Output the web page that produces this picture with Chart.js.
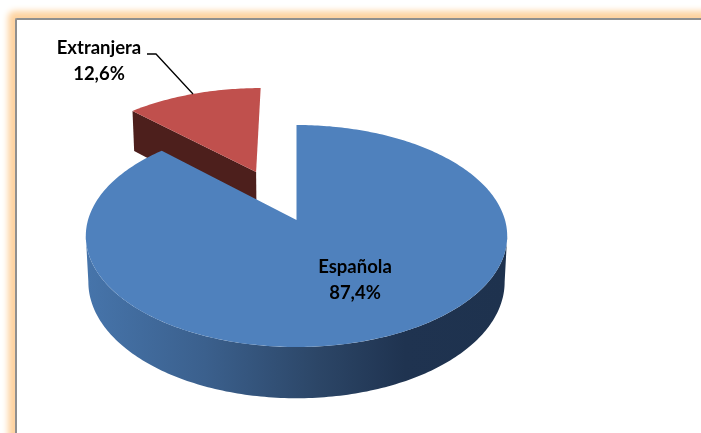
<!DOCTYPE html>
<html>
<head>
<meta charset="utf-8">
<title>Nacionalidad</title>
<script src="https://cdn.jsdelivr.net/npm/chart.js@4"></script>
<style>
  html, body { margin: 0; padding: 0; background: #fff; overflow: hidden; width: 701px; height: 433px; }
  #frame {
    position: absolute; left: 15px; top: 18px; width: 800px; height: 600px;
    background: #fff;
    border-left: 2px solid #8f8f8f; border-top: 2px solid #8f8f8f;
    box-shadow: 0 0 6px 7px #fed3a0;
    border-radius: 2px;
  }
  #chart { position: absolute; left: 0; top: 0; }
</style>
</head>
<body>
<div id="frame"></div>
<canvas id="chart" width="701" height="433"></canvas>
<script>
// Data
const categories = ['Española', 'Extranjera'];
const shares = [87.4, 12.6];
const sliceColors = ['#4f81bd', '#c0504d'];
const cutFaceColors = ['#1f334f', '#4d1f1c'];
const explode = [0, 0.51];            // slice pull-out, as a fraction of the radius
const explodeNudge = [0, -2];         // small sideways correction of the pull-out, px
const labelPositions = [[355, 267], [99, 48]];

// Tilted view of the pie: the near rim is bigger than the far rim
const TILT = 108.7;    // vertical size of the disc
const PERSPECTIVE = 0.144;
const THICKNESS = 46;
const DEPTH_SHRINK = 0.012;
const SILHOUETTE_ANGLE = 0.14;  // where the wall leaves the top rim, radians

/**
 * Project a point of the pie (unit disc coords, z = 0 top face, z = 1 bottom face)
 */
function project(arc, u, v, z) {
  const w = 1 - PERSPECTIVE * v + DEPTH_SHRINK * z;
  return [arc.x + arc.outerRadius * u / w, arc.y + (TILT * v + THICKNESS * z) / w];
}

function rimPoints(arc, pull, from, to, z) {
  const mid = (arc.startAngle + arc.endAngle) / 2;
  const ox = Math.cos(mid) * pull;
  const oy = Math.sin(mid) * pull;
  const steps = Math.max(2, Math.ceil(Math.abs(to - from) * 60));
  const points = [];
  for (let i = 0; i <= steps; i++) {
    const a = from + (to - from) * i / steps;
    points.push(project(arc, ox + Math.cos(a), oy + Math.sin(a), z));
  }
  return points;
}

function fillPolygon(ctx, points, fill) {
  ctx.beginPath();
  points.forEach((p, i) => (i ? ctx.lineTo(p[0], p[1]) : ctx.moveTo(p[0], p[1])));
  ctx.closePath();
  ctx.fillStyle = fill;
  ctx.fill();
}

function drawSlice(ctx, arc, index) {
  const pull = explode[index];
  const mid = (arc.startAngle + arc.endAngle) / 2;
  const ox = Math.cos(mid) * pull;
  const oy = Math.sin(mid) * pull;
  const apexTop = project(arc, ox, oy, 0);
  const apexBottom = project(arc, ox, oy, 1);

  ctx.save();
  ctx.translate(explodeNudge[index], 0);

  // Side wall along the near part of the rim
  const wallFrom = Math.max(arc.startAngle, SILHOUETTE_ANGLE);
  const wallTo = Math.min(arc.endAngle, Math.PI - SILHOUETTE_ANGLE);
  if (wallTo > wallFrom) {
    const wall = rimPoints(arc, pull, wallFrom, wallTo, 0)
      .concat(rimPoints(arc, pull, wallTo, wallFrom, 1));
    const shade = ctx.createLinearGradient(88, 0, 505, 0);
    shade.addColorStop(0, '#4674aa');
    shade.addColorStop(0.28, '#3b608d');
    shade.addColorStop(0.55, '#2c4667');
    shade.addColorStop(0.76, '#1f3350');
    shade.addColorStop(1, '#1e324e');
    fillPolygon(ctx, wall, shade);
  }

  // Cut face, only the pulled-out slice shows one
  if (pull > 0) {
    const cornerTop = project(arc, ox + Math.cos(arc.startAngle), oy + Math.sin(arc.startAngle), 0);
    const cornerBottom = project(arc, ox + Math.cos(arc.startAngle), oy + Math.sin(arc.startAngle), 1);
    fillPolygon(ctx, [apexTop, cornerTop, cornerBottom, apexBottom], cutFaceColors[index]);
  }

  // Top face
  fillPolygon(ctx, [apexTop].concat(rimPoints(arc, pull, arc.startAngle, arc.endAngle, 0)),
    arc.options.backgroundColor);
  ctx.restore();
}

const pie3d = {
  id: 'pie3d',
  beforeDatasetsDraw(chart) {
    const ctx = chart.ctx;
    const arcs = chart.getDatasetMeta(0).data;
    // Far slice first so the big one covers it
    ctx.save();
    for (let i = arcs.length - 1; i >= 0; i--) {
      drawSlice(ctx, arcs[i], i);
    }
    ctx.restore();
    return false;
  },
  afterDraw(chart) {
    const ctx = chart.ctx;
    ctx.save();

    // Leader line of the small slice
    ctx.strokeStyle = '#000';
    ctx.lineWidth = 1.3;
    ctx.beginPath();
    ctx.moveTo(147, 54);
    ctx.lineTo(156, 54);
    ctx.lineTo(193, 94);
    ctx.stroke();

    ctx.fillStyle = '#000';
    ctx.font = 'bold 18.5px Lato';
    ctx.textAlign = 'center';
    ctx.textBaseline = 'middle';
    categories.forEach((name, i) => {
      const [x, y] = labelPositions[i];
      ctx.fillText(name, x, y);
      ctx.fillText(shares[i].toFixed(1).replace('.', ',') + '%', x, y + 26);
    });
    ctx.restore();
  }
};

new Chart(document.getElementById('chart'), {
  type: 'pie',
  data: {
    labels: categories,
    datasets: [{ data: shares, backgroundColor: sliceColors, borderWidth: 0 }]
  },
  options: {
    responsive: false,
    animation: false,
    radius: 208.5,
    events: [],
    layout: { padding: { left: 0, right: 108, top: 7, bottom: 0 } },
    plugins: { legend: { display: false }, tooltip: { enabled: false } }
  },
  plugins: [pie3d]
});
</script>
</body>
</html>
